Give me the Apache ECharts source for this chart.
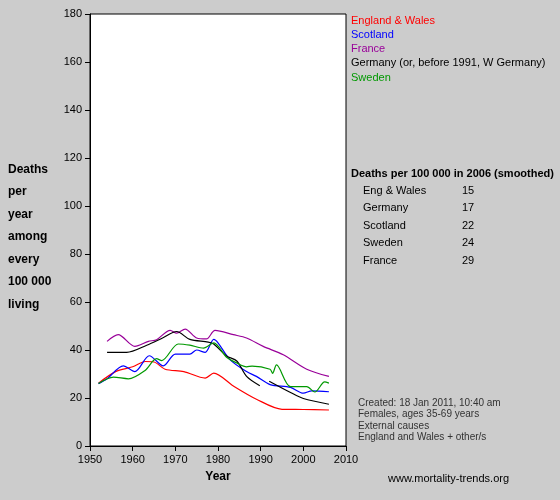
<!DOCTYPE html><html><head><meta charset="utf-8"><script src="https://cdn.jsdelivr.net/npm/echarts@6/dist/echarts.min.js"></script></head><body style="margin:0;background:#cccccc"><div id="c" style="width:560px;height:500px"></div><script>
const engWales=[[1952,26.2],[1956,31],[1960,33],[1963,35.2],[1965,35],[1967.6,32],[1972,31],[1977,28.3],[1979,30.4],[1983.6,25],[1989,19.5],[1995,15.3],[2000,15.2],[2006,15]];
const scotland=[[1952,26],[1954,28],[1957.8,33.4],[1960.5,31],[1963.9,37.6],[1967.2,33.4],[1970,38.3],[1973.4,38.3],[1975,40],[1977,39],[1979,44.4],[1980,43],[1982.8,36],[1986.7,31],[1989,29],[1992.2,25.6],[1997,24.4],[2000,22],[2002,23],[2006,22.6]];
const france=[[1954,43.6],[1956.6,46.4],[1960.5,41.5],[1963.7,43.6],[1965.6,44.3],[1968.8,48.2],[1970.3,47],[1972.3,48.7],[1975,45],[1977.3,44.6],[1979.3,48.2],[1983.6,46.4],[1986.7,45],[1990.6,41.5],[1995.3,38],[2000.8,32],[2006,29]];
const germany=[[1954,39],[1958.6,39],[1963.3,42],[1967,45],[1970.3,47.7],[1973.4,44.4],[1977.7,43.3],[1979,42.5],[1982,37.5],[1984.4,35.4],[1986.7,29],[1989.8,25.1],[1990.5,null],[1992,27],[1997,22.3],[2000,19.8],[2006,17.4]];
const sweden=[[1952,26],[1955.5,28.7],[1959,28],[1962.9,31.5],[1965.6,36.4],[1966.8,35.6],[1970.7,42.5],[1973.4,42],[1976.6,40.8],[1979,43],[1982,37],[1984.4,34.6],[1986.7,33],[1988,33.3],[1992.2,32],[1992.8,30.3],[1993.7,33.8],[1997,24.7],[2000.8,24.7],[2002.7,22.5],[2005,26.7],[2006,26.2]];
const legendNames=['England & Wales','Scotland','France','Germany (or, before 1991, W Germany)','Sweden'];
const colors=['#ff0000','#0000ff','#990099','#000000','#009900'];
const tableNames=['Eng & Wales','Germany','Scotland','Sweden','France'];
const tableVals=[15,17,22,24,29];
const all=[engWales,scotland,france,germany,sweden];
const f='Arial, "Liberation Sans", sans-serif';
const g=[];
legendNames.forEach((n,i)=>g.push({type:'text',left:351,top:15+i*14.3,style:{text:n,fill:colors[i],font:'11px '+f}}));
g.push({type:'text',left:351,top:168,style:{text:'Deaths per 100 000 in 2006 (smoothed)',fill:'#000',font:'bold 11px '+f}});
tableNames.forEach((n,i)=>{g.push({type:'text',left:363,top:185+i*17.5,style:{text:n,fill:'#000',font:'11px '+f}});g.push({type:'text',left:462,top:185+i*17.5,style:{text:String(tableVals[i]),fill:'#000',font:'11px '+f}});});
g.push({type:'text',left:8,top:158,style:{text:'Deaths\nper\nyear\namong\nevery\n100 000\nliving',fill:'#000',font:'bold 12px '+f,lineHeight:22.5}});
g.push({type:'text',left:358,top:397,style:{text:'Created: 18 Jan 2011, 10:40 am\nFemales, ages 35-69 years\nExternal causes\nEngland and Wales + other/s',fill:'#333',font:'10px '+f,lineHeight:11.5}});
g.push({type:'text',left:388,top:473,style:{text:'www.mortality-trends.org',fill:'#000',font:'11px '+f}});
const ch=echarts.init(document.getElementById('c'));
ch.setOption({animation:false,backgroundColor:'#cccccc',graphic:g,
grid:{left:90,right:214,top:14,bottom:54,show:true,backgroundColor:'#fff',borderColor:'#000',borderWidth:1},
xAxis:{type:'value',min:1950,max:2010,interval:10,name:'Year',nameLocation:'middle',nameGap:25,nameTextStyle:{fontWeight:'bold',fontSize:12,color:'#000',fontFamily:f},axisLine:{lineStyle:{color:'#000'}},axisTick:{lineStyle:{color:'#000'}},axisLabel:{color:'#000',fontSize:11,fontFamily:f,formatter:v=>String(v)},splitLine:{show:false}},
yAxis:{type:'value',min:0,max:180,interval:20,axisLine:{show:true,lineStyle:{color:'#000'}},axisTick:{show:true,lineStyle:{color:'#000'}},axisLabel:{color:'#000',fontSize:11,fontFamily:f},splitLine:{show:false}},
series:all.map((d,i)=>({type:'line',data:d,smooth:0.3,showSymbol:false,connectNulls:false,lineStyle:{color:colors[i],width:1.2},itemStyle:{color:colors[i]}}))});
</script></body></html>
